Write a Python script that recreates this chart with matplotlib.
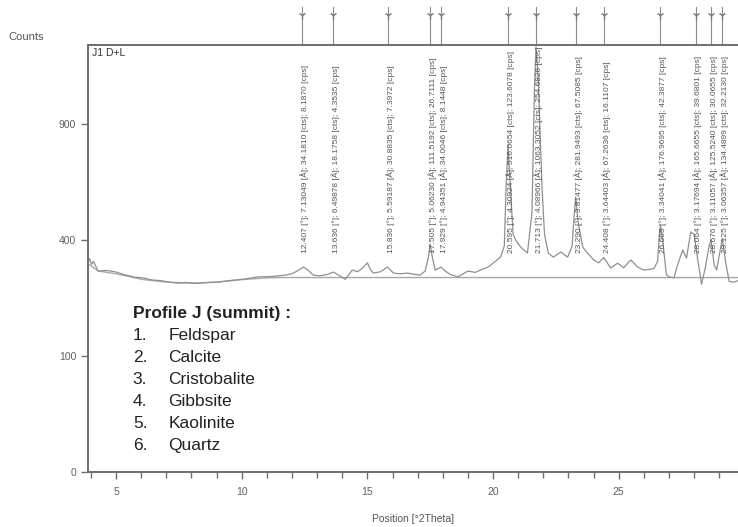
import numpy as np
import matplotlib.pyplot as plt
from matplotlib.transforms import blended_transform_factory

plt.rcParams['font.family'] = ['Liberation Sans', 'DejaVu Sans']

pos_deg = [3.88, 3.95, 4.02, 4.1, 4.28, 4.6, 4.96, 5.3, 5.76, 6.1, 6.43, 6.8, 7.1,
           7.47, 7.8, 8.15, 8.5, 9.06, 9.5, 10.14, 10.66, 11.2, 11.73, 12.0, 12.2,
           12.45, 12.65, 12.85, 13.1, 13.4, 13.65, 13.9, 14.12, 14.4, 14.6, 14.72,
           14.85, 15.0, 15.12, 15.24, 15.52, 15.8, 16.04, 16.3, 16.6, 16.9, 17.1,
           17.3, 17.42, 17.5, 17.58, 17.7, 17.93, 18.1, 18.3, 18.6, 19.0, 19.3,
           19.5, 19.8, 20.0, 20.3, 20.45, 20.52, 20.6, 20.68, 20.8, 20.9, 21.1,
           21.37, 21.55, 21.65, 21.71, 21.8, 21.95, 22.05, 22.2, 22.4, 22.7, 22.97,
           23.15, 23.22, 23.29, 23.38, 23.57, 23.76, 24.0, 24.2, 24.41, 24.68,
           24.96, 25.2, 25.48, 25.76, 26.0, 26.4, 26.55, 26.62, 26.665, 26.75,
           26.9, 27.0, 27.2, 27.35, 27.55, 27.7, 27.87, 28.0, 28.15, 28.3, 28.45,
           28.6, 28.68, 28.8, 28.9, 29.05, 29.13, 29.25, 29.4, 29.6, 29.75]
counts = [325, 338, 320, 330, 300, 302, 298, 290, 282, 280, 274, 272, 268,
          265, 267, 264, 266, 268, 272, 277, 283, 284, 288, 292, 300,
          312, 302, 288, 286, 290, 297, 286, 276, 303, 298, 304,
          312, 325, 305, 294, 298, 312, 294, 292, 294, 290, 288,
          300, 340, 386, 345, 303, 312, 300, 290, 283, 300, 296,
          303, 312, 324, 343, 380, 600, 796, 620, 420, 400, 376,
          356, 500, 1100, 1343, 1150, 600, 420, 356, 343, 360, 343,
          380, 480, 562, 470, 376, 356, 335, 325, 342, 309,
          324, 310, 334, 312, 303, 307, 330, 420, 452, 400,
          290, 283, 280, 320, 366, 340, 428, 420, 334, 262, 310,
          380, 400, 320, 303, 370, 405, 330, 270, 268, 272]

# background line
bg_pos = [3.88, 4.3, 5.0, 6.0, 7.0, 8.0, 9.0, 10.0, 11.0, 11.5, 29.75]
bg_counts = [322, 300, 292, 276, 268, 265, 268, 275, 280, 281, 281]

# peak list
peak_pos = [12.407, 13.636, 15.836, 17.505, 17.929, 20.595, 21.713, 23.290,
            24.408, 26.665, 28.064, 28.676, 29.125]
peak_d = ["7.13049", "6.49878", "5.59187", "5.06230", "4.94351", "4.30924",
          "4.08966", "3.81477", "3.64403", "3.34041", "3.17694", "3.11057", "3.06357"]
peak_cts = ["34.1810", "18.1758", "30.8835", "111.5192", "34.0046", "516.0654",
            "1063.3052", "281.9493", "67.2636", "176.9695", "165.6655", "125.5240",
            "134.4899"]
peak_cps = ["8.1870", "4.3535", "7.3972", "26.7111", "8.1448", "123.6078",
            "254.6826", "67.5085", "16.1107", "42.3877", "39.6801", "30.0655",
            "32.2130"]

phases = ["Feldspar", "Calcite", "Cristobalite", "Gibbsite", "Kaolinite", "Quartz"]

fig = plt.figure(figsize=(7.38, 5.27), dpi=100)
ax = fig.add_axes([0.1192, 0.1044, 0.8808, 0.8102])

ax.plot(bg_pos, bg_counts, color='#a8a8a8', lw=1.0)
ax.plot(pos_deg, counts, color='#909090', lw=0.9)

ax.set_yscale('function', functions=(lambda y: np.sqrt(np.maximum(y, 0)),
                                     lambda y: np.asarray(y) ** 2))
ax.set_ylim(0, 1355)
ax.set_xlim(3.88, 29.75)
ax.set_yticks([0, 100, 400, 900])
ax.set_yticks([], minor=True)
ax.set_xticks([5, 10, 15, 20, 25])
ax.set_xticks(np.arange(4, 30), minor=True)

for s in ['left', 'bottom', 'top']:
    ax.spines[s].set_color('#6e6e6e')
    ax.spines[s].set_linewidth(1.4)
ax.spines['right'].set_visible(False)
ax.tick_params(axis='both', which='both', colors='#6e6e6e', labelcolor='#606060',
               labelsize=7.5, width=1.0)
ax.tick_params(axis='x', which='major', length=5, pad=6)
ax.tick_params(axis='x', which='minor', length=4)
ax.tick_params(axis='y', length=5)

ax.set_xlabel('Position [°2Theta]', fontsize=7.5, color='#555555', labelpad=12)
fig.text(0.012, 0.925, 'Counts', fontsize=8, color='#555555')
ax.text(0.006, 0.993, 'J1 D+L', transform=ax.transAxes, fontsize=7.5,
        color='#333333', va='top', ha='left')

# peak markers above the frame
trans = blended_transform_factory(ax.transData, ax.transAxes)
for p in peak_pos:
    ax.plot([p, p], [1.0, 1.09], transform=trans, color='#8a8a8a', lw=0.8,
            clip_on=False)
    ax.plot([p], [1.07], transform=trans, marker='1', ms=6, color='#777777',
            clip_on=False)

# rotated peak labels
for p, d, c, cp in zip(peak_pos, peak_d, peak_cts, peak_cps):
    label = f"{p:.3f} [°]; {d} [Å]; {c} [cts]; {cp} [cps]"
    ax.text(p + 0.1, 358, label, rotation=90, fontsize=6.0, color='#555555',
            ha='center', va='bottom')

# phase list
fs = 12.5
fig.text(0.180, 0.405, 'Profile J (summit) :', fontsize=fs, fontweight='bold',
         color='#222222', va='center')
for i, name in enumerate(phases):
    yy = 0.405 - (i + 1) * 0.0418
    fig.text(0.180, yy, f"{i + 1}.", fontsize=fs, color='#222222', va='center')
    fig.text(0.228, yy, name, fontsize=fs, color='#222222', va='center')

plt.savefig('out.png', dpi=100)
